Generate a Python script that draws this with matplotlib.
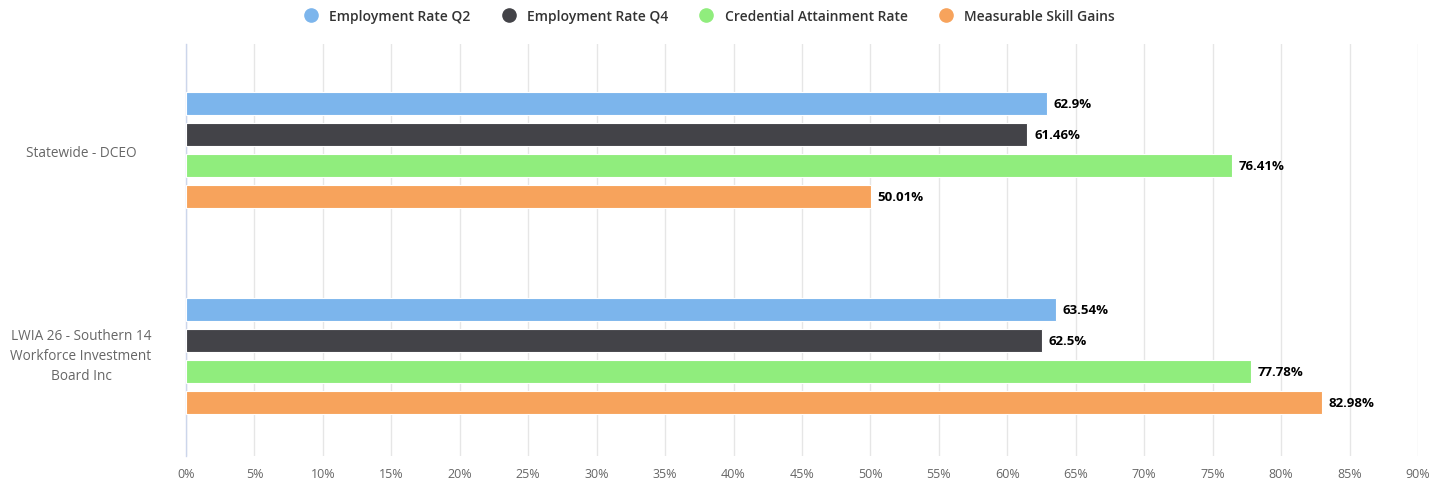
import matplotlib
matplotlib.use("Agg")
import matplotlib.pyplot as plt
import matplotlib.transforms as mtransforms
import numpy as np
from matplotlib.lines import Line2D

plt.rcParams['font.family'] = ['Open Sans', 'DejaVu Sans']

categories = ["Statewide - DCEO", "LWIA 26 - Southern 14\nWorkforce Investment\nBoard Inc"]
series_names = ["Employment Rate Q2", "Employment Rate Q4", "Credential Attainment Rate", "Measurable Skill Gains"]
emp_q2 = [62.9, 63.54]
emp_q4 = [61.46, 62.5]
credential = [76.41, 77.78]
skill_gains = [50.01, 82.98]
value_labels = [["62.9%", "63.54%"], ["61.46%", "62.5%"], ["76.41%", "77.78%"], ["50.01%", "82.98%"]]
colors = ["#7cb5ec", "#434348", "#90ed7d", "#f7a35c"]
x_ticks = list(range(0, 91, 5))

series = [emp_q2, emp_q4, credential, skill_gains]

fig = plt.figure(figsize=(14.29, 4.85), dpi=100)
ax = fig.add_axes([186/1429, 1 - 457/485, (1418-186)/1429, (457-45)/485])

y = np.arange(len(categories))
h = 0.112
step = 0.150
for i, (vals, col) in enumerate(zip(series, colors)):
    off = (i - 1.5) * step
    ax.barh(y + off, vals, height=h, color=col, edgecolor='white', linewidth=0.8, zorder=3)
    for j, v in enumerate(vals):
        ax.annotate(value_labels[i][j], xy=(v, y[j] + off), xytext=(5, 0), textcoords='offset points',
                    ha='left', va='center', fontsize=9.5, fontweight='bold', color='#000000', zorder=4)

ax.set_xlim(0, 90)
ax.set_ylim(1.485, -0.515)
ax.set_xticks(x_ticks)
ax.set_xticklabels([f"{t}%" for t in x_ticks], fontsize=9, color='#666666')
ax.set_yticks(y)
ax.set_yticklabels([])
ax.tick_params(axis='y', length=0)
ax.tick_params(axis='x', length=0, pad=8)

# category labels, centred left of the axis
label_offsets_px = [-2, 1]
for j, cat in enumerate(categories):
    tr = mtransforms.blended_transform_factory(ax.transAxes, ax.transData) + \
        mtransforms.ScaledTranslation(-105/100, label_offsets_px[j]/100, fig.dpi_scale_trans)
    ax.text(0, y[j], cat, transform=tr, ha='center', va='center', fontsize=9.8,
            color='#666666', linespacing=1.45, multialignment='center')

ax.grid(axis='x', color='#e6e6e6', linewidth=1, zorder=0)
for s in ['top', 'right', 'bottom']:
    ax.spines[s].set_visible(False)
ax.spines['left'].set_color('#ccd6eb')
ax.spines['left'].set_linewidth(1)

handles = [Line2D([0], [0], marker='o', linestyle='none', markersize=9.5, markerfacecolor=c, markeredgecolor=c)
           for c in colors]
leg = fig.legend(handles, series_names, loc='upper center', bbox_to_anchor=(0.494, 1.005), ncol=4,
                 frameon=False, fontsize=10, handletextpad=0.3, columnspacing=1.75)
for t in leg.get_texts():
    t.set_color('#333333')
    t.set_fontweight('semibold')

fig.savefig("out.png", dpi=100)
